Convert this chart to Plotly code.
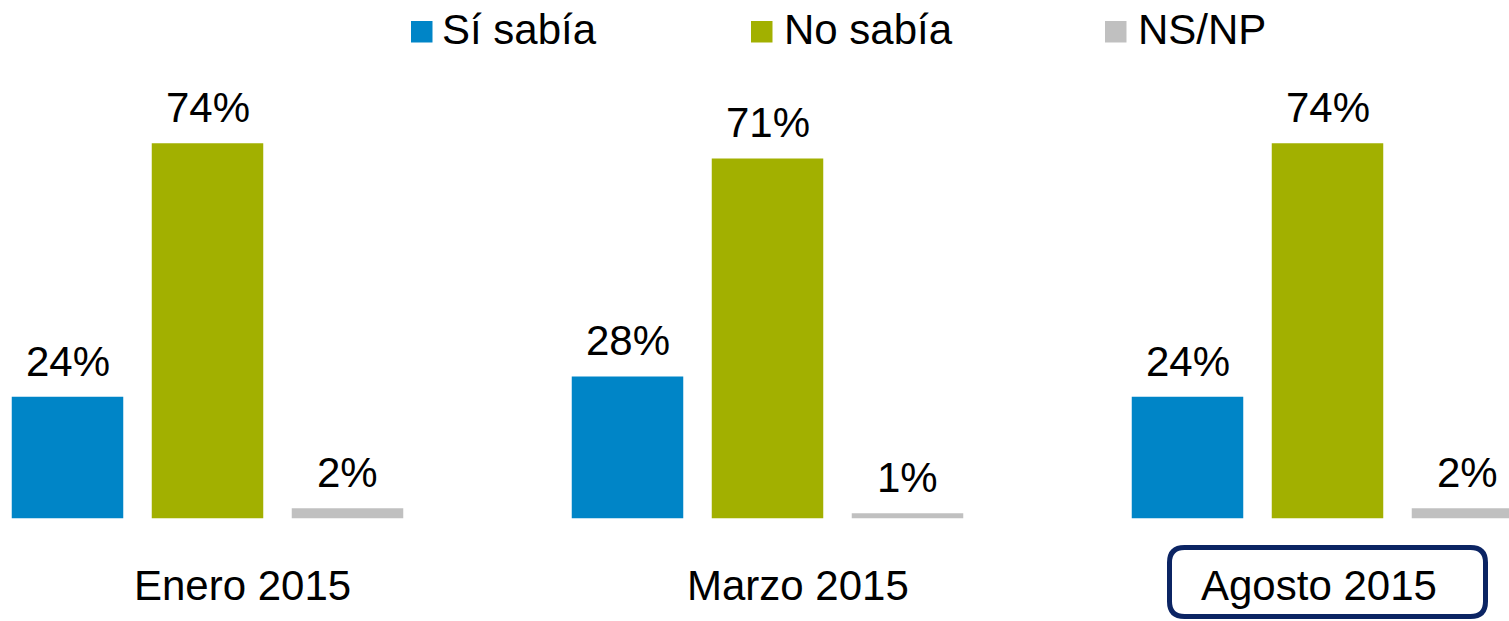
import plotly.graph_objects as go

# Survey waves and answer shares (%)
periods = ["Enero 2015", "Marzo 2015", "Agosto 2015"]
series_names = ["Sí sabía", "No sabía", "NS/NP"]
si_sabia = [24, 28, 24]
no_sabia = [74, 71, 74]
ns_np = [2, 1, 2]
series_values = [si_sabia, no_sabia, ns_np]
series_colors = ["#0085C7", "#A2B000", "#C0C0C0"]

W, H = 1509, 621
FONT = "Liberation Sans, Arial, Helvetica, sans-serif"
TEXT_SIZE = 42


def px(x):
    return x / W


def py(y):
    return 1 - y / H


group_pos = list(range(len(periods)))

fig = go.Figure()
for name, vals, color in zip(series_names, series_values, series_colors):
    fig.add_trace(go.Bar(
        x=group_pos, y=vals, name=name,
        marker=dict(color=color, line=dict(width=0)),
        showlegend=False, hoverinfo="skip",
    ))

annotations = []
shapes = []

# value labels above each bar
n = len(series_names)
slot = 0.75 / n
for k, vals in enumerate(series_values):
    off = (k - (n - 1) / 2) * slot
    for g, v in zip(group_pos, vals):
        annotations.append(dict(
            x=g + off, y=v, xref="x", yref="y",
            text=f"{v}%", showarrow=False,
            xanchor="center", yanchor="bottom", yshift=10,
            font=dict(family=FONT, size=TEXT_SIZE, color="#000000"),
        ))

# period labels under the groups
period_label_x = [242.5, 798, 1319]
for label, cx in zip(periods, period_label_x):
    annotations.append(dict(
        x=px(cx), y=py(585.5), xref="paper", yref="paper",
        text=label, showarrow=False, xanchor="center", yanchor="middle",
        font=dict(family=FONT, size=TEXT_SIZE, color="#000000"),
    ))

# rounded frame around the latest wave
x0, x1, y0, y1, r = 1169.5, 1485.5, 547.5, 616.5, 15
path = (
    f"M{px(x0 + r)},{py(y0)} L{px(x1 - r)},{py(y0)} "
    f"Q{px(x1)},{py(y0)} {px(x1)},{py(y0 + r)} "
    f"L{px(x1)},{py(y1 - r)} "
    f"Q{px(x1)},{py(y1)} {px(x1 - r)},{py(y1)} "
    f"L{px(x0 + r)},{py(y1)} "
    f"Q{px(x0)},{py(y1)} {px(x0)},{py(y1 - r)} "
    f"L{px(x0)},{py(y0 + r)} "
    f"Q{px(x0)},{py(y0)} {px(x0 + r)},{py(y0)} Z"
)
shapes.append(dict(type="path", path=path, xref="paper", yref="paper",
                   line=dict(color="#0B2463", width=5), fillcolor="rgba(0,0,0,0)"))

# legend: colour squares and names across the top
legend_square_x = [411, 751, 1105]
legend_text_x = [440, 782, 1136]
for name, color, sx, tx in zip(series_names, series_colors, legend_square_x, legend_text_x):
    shapes.append(dict(type="rect", xref="paper", yref="paper",
                       x0=px(sx), x1=px(sx + 21.5), y0=py(21), y1=py(42.5),
                       fillcolor=color, line=dict(width=0)))
    annotations.append(dict(
        x=px(tx), y=py(30), xref="paper", yref="paper",
        text=name, showarrow=False, xanchor="left", yanchor="middle",
        font=dict(family=FONT, size=TEXT_SIZE, color="#000000"),
    ))

# axis scaling: 560 px per wave, 5.068 px per percentage point, baseline at y=518.3 px
px_per_group = 560.0
first_center = 207.5
xmin = -first_center / px_per_group
xmax = xmin + W / px_per_group
px_per_pct = 5.068
baseline = 518.3
ymax = baseline / px_per_pct
ymin = ymax - H / px_per_pct

fig.update_layout(
    width=W, height=H, autosize=False,
    margin=dict(l=0, r=0, t=0, b=0, pad=0),
    paper_bgcolor="white", plot_bgcolor="white",
    barmode="group", bargap=0.25, bargroupgap=0.2036,
    xaxis=dict(range=[xmin, xmax], visible=False, fixedrange=True),
    yaxis=dict(range=[ymin, ymax], visible=False, fixedrange=True),
    annotations=annotations, shapes=shapes,
    showlegend=False,
)

fig.write_html("out.html", config={"displayModeBar": False})
